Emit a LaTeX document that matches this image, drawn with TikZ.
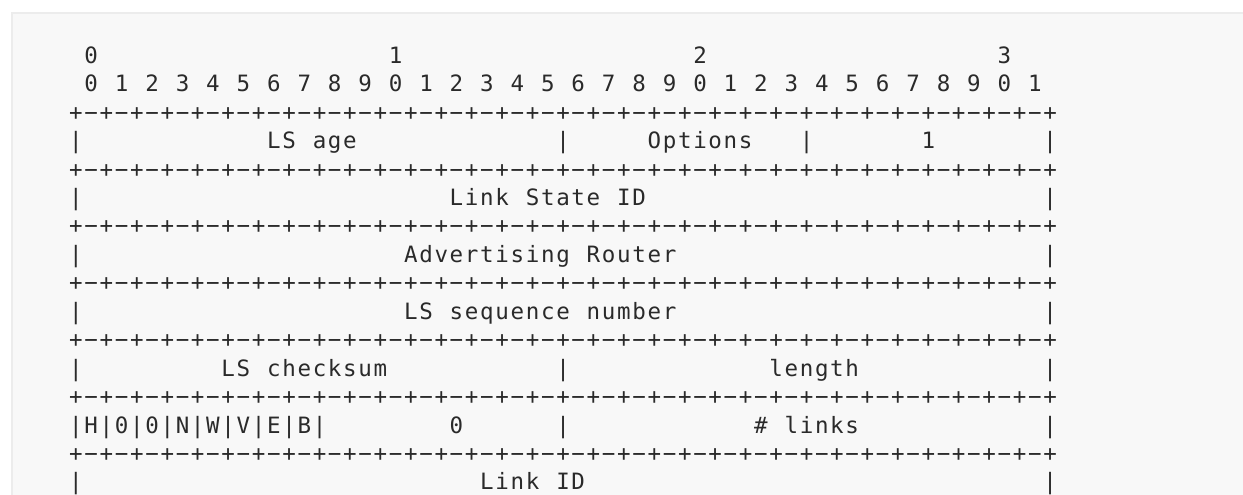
\documentclass[tikz,border=0pt]{standalone}
\usepackage{fontspec}
\newfontfamily\monof{DejaVu Sans Mono}
\definecolor{bgc}{HTML}{F8F8F8}
\definecolor{bdc}{HTML}{ECECEC}
\definecolor{txt}{HTML}{2A2A2A}
\newcounter{colc}
\tikzset{
  ch/.style={anchor=base, inner sep=0pt, outer sep=0pt, text=txt,
    font=\monof\fontsize{22.5}{27}\selectfont},
  codebox/.style={fill=bgc, draw=bdc, line width=1.5pt}
}
\newcommand\segrow{0}
\newcommand\seg[3]{\setcounter{colc}{#1}\renewcommand\segrow{#2}\segloop#3\relax}
\def\segloop#1{\ifx#1\relax\else
  \node[ch] at ({76+\arabic{colc}*15.22},{63.3+\segrow*28.44}) {#1};%
  \stepcounter{colc}\expandafter\segloop\fi}
\begin{document}
\begin{tikzpicture}[x=1pt,y=-1pt]
\useasboundingbox (0,0) rectangle (1243,495);
\clip (0,0) rectangle (1243,495);
\fill[white] (0,0) rectangle (1243,495);
\draw[codebox] (12,13) rectangle (1260,520);
% header rows
\seg{1}{0}{0}\seg{21}{0}{1}\seg{41}{0}{2}\seg{61}{0}{3}
\foreach \i in {0,...,31}{
  \pgfmathtruncatemacro\d{mod(\i,10)}
  \node[ch] at ({76+(1+2*\i)*15.22},{63.3+1*28.44}) {\d};
}
% separator lines
\foreach \r in {2,4,6,8,10,12,14}{
  \foreach \c in {0,...,64}{
    \pgfmathtruncatemacro\odd{mod(\c,2)}
    \ifnum\odd=0
      \node[ch] at ({76+\c*15.22},{63.3+\r*28.44}) {+};
    \else
      \node[ch] at ({76+\c*15.22},{63.3+\r*28.44}) {\char"2212};
    \fi
  }
}
% row 3
\seg{0}{3}{|}\seg{13}{3}{LS}\seg{16}{3}{age}\seg{32}{3}{|}\seg{38}{3}{Options}\seg{48}{3}{|}\seg{56}{3}{1}\seg{64}{3}{|}
% row 5
\seg{0}{5}{|}\seg{25}{5}{Link}\seg{30}{5}{State}\seg{36}{5}{ID}\seg{64}{5}{|}
% row 7
\seg{0}{7}{|}\seg{22}{7}{Advertising}\seg{34}{7}{Router}\seg{64}{7}{|}
% row 9
\seg{0}{9}{|}\seg{22}{9}{LS}\seg{25}{9}{sequence}\seg{34}{9}{number}\seg{64}{9}{|}
% row 11
\seg{0}{11}{|}\seg{10}{11}{LS}\seg{13}{11}{checksum}\seg{32}{11}{|}\seg{46}{11}{length}\seg{64}{11}{|}
% row 13
\seg{0}{13}{|H|0|0|N|W|V|E|B|}\seg{25}{13}{0}\seg{32}{13}{|}\seg{45}{13}{\#}\seg{47}{13}{links}\seg{64}{13}{|}
% row 15
\seg{0}{15}{|}\seg{27}{15}{Link}\seg{32}{15}{ID}\seg{64}{15}{|}
\end{tikzpicture}
\end{document}
